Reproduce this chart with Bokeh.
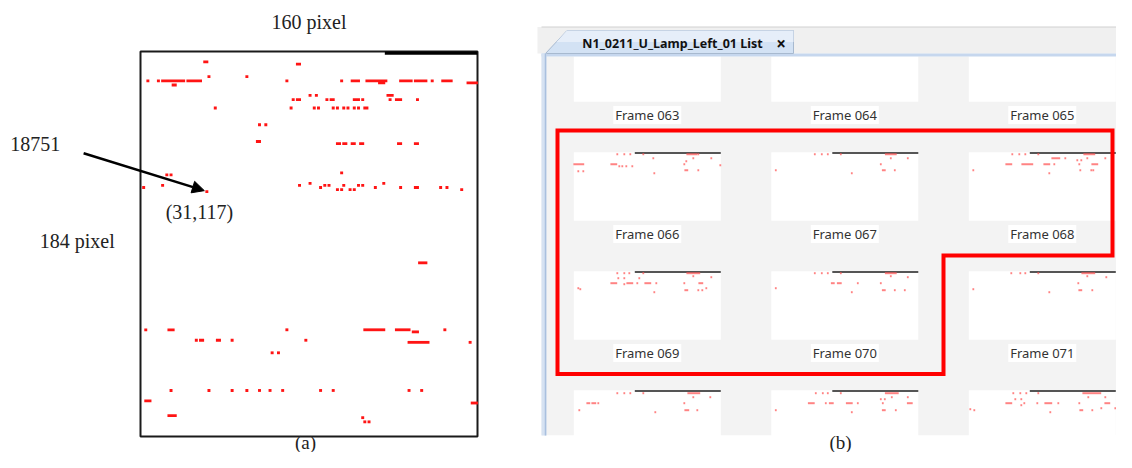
from bokeh.plotting import figure
from bokeh.models import Range1d, Arrow, NormalHead
from bokeh.embed import file_html
from bokeh.resources import INLINE
from bokeh.core.properties import value

# ---------------- Panel (a): one 160 x 184 pixel event frame ----------------
FRAME_W = 160
FRAME_H = 184
# runs of active pixels (x from left, y from bottom): start x, end x, row y
run_x0 = [30, 74, 3, 8, 10, 22, 69, 95, 100, 107, 123, 130, 138, 143, 155, 15, 32, 50, 113,
          80, 83, 117, 72, 74, 88, 90, 101, 105, 118, 121, 131,
          35, 71, 82, 84, 91, 93, 96, 98, 101, 103, 106, 56, 59, 55, 93, 96, 100, 104, 122, 130,
          1, 10, 12, 14, 31, 75, 80, 85, 87, 89, 95, 93, 95, 96, 99, 101, 103, 105, 111, 115, 123,
          130, 142, 145, 152, 132,
          2, 13, 69, 106, 121, 144, 129, 26, 28, 36, 43, 78, 127, 156, 62, 65,
          14, 32, 43, 50, 56, 61, 67, 85, 91, 127, 133, 2, 157, 13, 105, 106, 108]
run_x1 = [31, 75, 3, 8, 20, 28, 69, 95, 103, 116, 128, 135, 138, 147, 159, 16, 32, 50, 115,
          80, 83, 119, 72, 75, 88, 91, 103, 105, 118, 123, 131,
          35, 71, 82, 84, 91, 93, 96, 98, 101, 103, 107, 56, 59, 56, 94, 97, 101, 105, 123, 131,
          1, 10, 12, 14, 31, 75, 80, 85, 87, 89, 95, 93, 95, 96, 99, 101, 103, 105, 111, 115, 123,
          131, 142, 145, 152, 135,
          2, 15, 69, 115, 127, 144, 131, 26, 29, 37, 43, 78, 136, 156, 62, 65,
          14, 32, 43, 50, 56, 61, 67, 85, 91, 127, 133, 4, 159, 16, 105, 106, 108]
run_y = [179, 178, 170, 170, 170, 170, 170, 170, 170, 170, 170, 170, 170, 170, 169, 168, 172, 172, 169,
         163, 163, 163, 161, 161, 161, 161, 161, 161, 161, 161, 161,
         157, 157, 157, 157, 157, 157, 157, 157, 157, 157, 157, 149, 149, 141, 140, 140, 140, 140, 140, 140,
         119, 120, 125, 125, 117, 120, 121, 119, 120, 120, 126, 118, 118, 120, 118, 118, 120, 120, 119, 121, 119,
         119, 119, 119, 118, 83,
         51, 51, 51, 51, 51, 51, 50, 46, 46, 46, 46, 46, 45, 45, 40, 40,
         22, 22, 22, 22, 22, 22, 22, 22, 22, 22, 22, 17, 16, 10, 9, 7, 7]
target_x, target_y = 31, 117
target_id = "18751"

# ---------------- Panel (b): frame list window ----------------
tab_title = "N1_0211_U_Lamp_Left_01 List"
frame_ids = ["063", "064", "065", "066", "067", "068", "069", "070", "071", "072", "073", "074"]
# thumbnail events per frame: (u start, u end, v) in thumbnail pixels from top-left
dots_063 = []
dots_064 = []
dots_065 = []
dots_066 = [(0, 9, 12), (4, 4, 19), (9, 9, 19), (37, 42, 12), (45, 45, 14), (48, 48, 14), (52, 52, 14),
            (58, 58, 14), (43, 43, 2), (50, 50, 2), (56, 56, 2), (69, 69, 2), (79, 79, 6), (80, 80, 21),
            (113, 122, 2), (124, 124, 2), (119, 119, 6), (110, 110, 12), (111, 113, 18), (124, 124, 18),
            (137, 137, 6), (146, 146, 13), (112, 112, 9)]
dots_067 = [(4, 4, 18), (43, 43, 2), (50, 50, 2), (56, 56, 2), (69, 69, 2), (80, 80, 21), (114, 124, 2),
            (119, 119, 6), (109, 109, 12), (111, 113, 18), (123, 123, 18), (136, 136, 6)]
dots_068 = [(4, 4, 18), (43, 43, 2), (50, 50, 2), (56, 56, 2), (69, 69, 2), (37, 42, 12), (53, 63, 12),
            (75, 80, 12), (85, 85, 12), (80, 80, 21), (83, 90, 6), (96, 96, 6), (108, 108, 8), (112, 112, 8),
            (110, 110, 12), (115, 125, 2), (118, 118, 6), (123, 128, 12), (111, 111, 18), (122, 122, 18),
            (124, 124, 18), (136, 136, 6)]
dots_069 = [(4, 4, 17), (6, 6, 18), (43, 43, 2), (50, 50, 2), (55, 55, 2), (69, 69, 2), (44, 44, 7),
            (50, 50, 7), (65, 65, 7), (37, 42, 12), (50, 50, 13), (53, 58, 12), (63, 63, 12), (71, 76, 12),
            (82, 82, 12), (80, 80, 21), (113, 125, 2), (119, 119, 5), (110, 110, 12), (125, 128, 12),
            (137, 137, 6), (111, 113, 19), (124, 124, 19), (128, 128, 19), (132, 132, 17)]
dots_070 = [(4, 4, 17), (43, 43, 2), (50, 50, 2), (56, 56, 2), (69, 69, 2), (60, 62, 12), (66, 69, 12),
            (86, 86, 12), (80, 80, 21), (114, 124, 2), (119, 119, 5), (109, 109, 12), (111, 113, 19),
            (123, 123, 19), (133, 133, 19), (136, 136, 6)]
dots_071 = [(4, 4, 18), (42, 42, 2), (51, 51, 2), (56, 56, 2), (69, 69, 2), (80, 80, 21), (113, 125, 2),
            (118, 118, 5), (109, 109, 12), (110, 112, 19), (123, 123, 19), (137, 137, 6)]
dots_072 = [(43, 43, 3), (50, 50, 3), (56, 56, 3), (69, 69, 3), (13, 15, 13), (18, 21, 13), (24, 24, 13),
            (5, 5, 20), (81, 81, 22), (114, 125, 3), (119, 119, 7), (110, 110, 13), (136, 136, 7),
            (111, 114, 20), (123, 123, 20)]
dots_073 = [(4, 4, 20), (44, 44, 3), (51, 51, 3), (56, 56, 3), (69, 69, 3), (37, 42, 13), (54, 54, 13),
            (58, 61, 13), (75, 80, 13), (86, 86, 13), (80, 80, 22), (114, 126, 3), (120, 120, 7),
            (109, 109, 9), (113, 113, 9), (111, 111, 13), (136, 140, 13), (136, 136, 7), (111, 113, 20),
            (124, 124, 20)]
dots_074 = [(1, 1, 19), (5, 5, 20), (44, 44, 3), (51, 51, 3), (57, 57, 3), (69, 69, 3), (46, 46, 9),
            (52, 52, 9), (37, 42, 13), (52, 52, 15), (55, 55, 13), (68, 68, 13), (76, 82, 13), (89, 89, 13),
            (81, 81, 22), (114, 131, 3), (119, 119, 7), (110, 110, 13), (136, 136, 7), (136, 140, 13),
            (111, 113, 20), (123, 123, 20), (132, 132, 18), (146, 146, 18)]
frame_dots = [dots_063, dots_064, dots_065, dots_066, dots_067, dots_068,
              dots_069, dots_070, dots_071, dots_072, dots_073, dots_074]

# ---------------- figure ----------------
W, H = 1116, 452
p = figure(width=W, height=H, x_range=Range1d(0, W), y_range=Range1d(H, 0),
           output_backend="svg", toolbar_location=None, min_border=0,
           x_axis_location=None, y_axis_location=None, outline_line_color=None,
           background_fill_color="white", border_fill_color="white")
p.grid.visible = False

# panel (a) scale: frame pixels mapped onto the box
BOX_L, BOX_R, BOX_T, BOX_B = 140, 477, 51, 436
sx = (BOX_R - BOX_L) / FRAME_W
sy = (BOX_B - BOX_T) / FRAME_H
p.extra_x_ranges = {"fx": Range1d((0 - BOX_L) / sx, (W - BOX_L) / sx)}
p.extra_y_ranges = {"fy": Range1d(FRAME_H - (H - BOX_T) / sy, FRAME_H + BOX_T / sy)}
A = dict(x_range_name="fx", y_range_name="fy")

serif = value("Liberation Serif")
ui = value("Noto Sans")

p.quad(left=[0], right=[FRAME_W], bottom=[0], top=[FRAME_H], fill_color=None,
       line_color="#1a1a1a", line_width=2, **A)
p.quad(left=[116], right=[FRAME_W], bottom=[FRAME_H - 1.6], top=[FRAME_H],
       fill_color="black", line_color=None, **A)
p.rect(x=[(a + b) / 2 + 0.5 for a, b in zip(run_x0, run_x1)], y=run_y,
       width=[b - a + 1.4 for a, b in zip(run_x0, run_x1)], height=1.35,
       fill_color="#ff1414", line_color=None, **A)
p.add_layout(Arrow(end=NormalHead(size=12, fill_color="black", line_color="black"),
                   x_start=-27, y_start=135.4, x_end=target_x - 0.7, y_end=target_y + 0.5,
                   line_width=2.5, line_color="black", **A))
p.text(x=[FRAME_W / 2, -30, -50, target_x - 3],
       y=[197.9, FRAME_H / 2 + 1.5, 140, 107.5],
       text=[f"{FRAME_W} pixel", f"{FRAME_H} pixel", target_id, f"({target_x},{target_y})"],
       text_font=serif, text_font_size="20px", text_color="#222222",
       text_align="center", text_baseline="middle", **A)

# ---------------- panel (b) UI ----------------
WIN_L, WIN_R = 541, 1112
CONT_T, CONT_B = 56, 435
p.quad(left=[WIN_L], right=[W], bottom=[CONT_B], top=[CONT_T], fill_color="#f3f3f3", line_color=None)

GX0, GPITCH, TW = 573.3, 197.5, 147
GY0, RPITCH, TH = 32.7, 119, 68.5
t_l, t_r, t_t, t_b, cx, lab_y, labels = [], [], [], [], [], [], []
d_x, d_y, d_w = [], [], []
ln_x0, ln_x1, ln_y = [], [], []
for i, fid in enumerate(frame_ids):
    r, c = divmod(i, 3)
    left = GX0 + c * GPITCH
    top = GY0 + r * RPITCH
    t_l.append(left); t_r.append(left + TW); t_t.append(top); t_b.append(top + TH)
    if top + TH + 13.3 < CONT_B:
        cx.append(left + TW / 2); lab_y.append(top + TH + 13.3); labels.append(f"Frame {fid}")
    dots = frame_dots[i]
    if dots:
        ln_x0.append(left + 61); ln_x1.append(left + TW); ln_y.append(top + 0.8)
    for u0, u1, v in dots:
        d_x.append(left + (u0 + u1) / 2 + 0.5)
        d_y.append(top + v)
        d_w.append(u1 - u0 + 1.8)

p.quad(left=t_l, right=t_r, top=t_t, bottom=t_b, fill_color="white", line_color=None)
p.segment(x0=ln_x0, x1=ln_x1, y0=ln_y, y1=ln_y, line_color="#555555", line_width=2)
p.rect(x=d_x, y=d_y, width=d_w, height=2, fill_color="#ff5a5a", fill_alpha=0.75, line_color=None)
p.rect(x=cx, y=lab_y, width=68, height=18, fill_color="white", line_color=None)
p.text(x=cx, y=lab_y, text=labels, text_font=ui, text_font_size="13px", text_color="#333333",
       text_align="center", text_baseline="middle")

# tab strip (covers top row overflow)
p.quad(left=[WIN_L - 4], right=[W], bottom=[53], top=[26.5], fill_color="#f0f0f0", line_color=None)
p.segment(x0=[WIN_L], x1=[W], y0=[26.5], y1=[26.5], line_color="#d0d0d0", line_width=1)
p.quad(left=[WIN_L], right=[W], bottom=[56], top=[53], fill_color="#c6d7ee", line_color=None)
p.patch(x=[545, 566.5, 793, 793], y=[53, 30, 30, 53], fill_color="#d3e2f4", line_color="#a7b9cf", line_width=1)
p.patch(x=[556, 566.5, 793, 793], y=[41.5, 30, 30, 41.5], fill_color="#e6eef9", line_color=None)
p.text(x=[672], y=[42.5], text=[tab_title], text_font=ui, text_font_style="bold",
       text_font_size="12.5px", text_color="#111111", text_align="center", text_baseline="middle")
p.text(x=[780.5], y=[42.5], text=["\u00d7"], text_font=ui, text_font_style="bold",
       text_font_size="17px", text_color="#111111", text_align="center", text_baseline="middle")
# bottom mask & left border
p.quad(left=[520], right=[W], bottom=[H], top=[CONT_B], fill_color="white", line_color=None)
p.quad(left=[WIN_L], right=[WIN_L + 5], bottom=[CONT_B], top=[53], fill_color="#d6e2f2", line_color=None)
p.segment(x0=[WIN_L + 4], x1=[WIN_L + 4], y0=[53], y1=[CONT_B], line_color="#a9c0df", line_width=1.5)

# selection outline around frames 066-070
p.patch(x=[557, WIN_R, WIN_R, 943, 943, 557], y=[130, 130, 255, 255, 373.5, 373.5],
        fill_alpha=0, line_color="#ff0000", line_width=4, line_join="miter")

# panel captions
p.text(x=[305, 840], y=[442, 442], text=["(a)", "(b)"], text_font=serif, text_font_size="19px",
       text_color="#222222", text_align="center", text_baseline="middle")

open("out.html", "w").write(file_html(p, INLINE))
